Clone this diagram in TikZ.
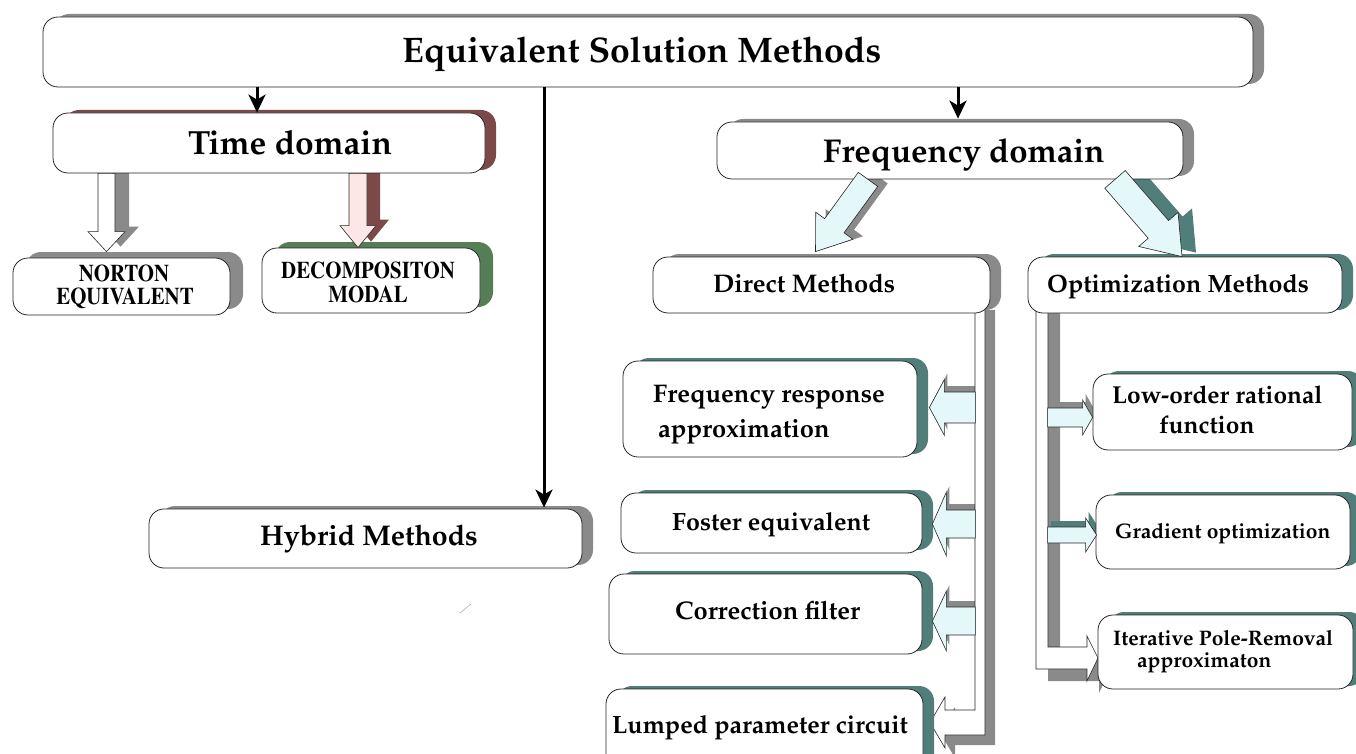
\documentclass[tikz,border=0pt]{standalone}
\usepackage[T1]{fontenc}
\renewcommand{\rmdefault}{ppl}
\usepackage{graphicx}
\usetikzlibrary{calc}
\usetikzlibrary{shadows}
\usetikzlibrary{arrows.meta}

\definecolor{shgray}{RGB}{138,138,138}
\definecolor{shbrown}{RGB}{124,72,72}
\definecolor{shgreen}{RGB}{86,126,86}
\definecolor{shteal}{RGB}{82,126,122}
\definecolor{paleblue}{RGB}{228,247,249}
\definecolor{palepink}{RGB}{252,230,230}

\pgfdeclarelayer{back}
\pgfsetlayers{back,main}

\tikzset{
  box/.style={draw=black!85, fill=white, rounded corners=15pt, line width=0.8pt, inner sep=0pt},
  shd/.style={general shadow={fill=#1, shadow xshift=11pt, shadow yshift=3pt}},
  shdb/.style={general shadow={fill=#1, shadow xshift=13pt, shadow yshift=6pt}},
  txt/.style={anchor=base west, inner sep=0pt, font=\bfseries\fontsize{#1}{#1}\selectfont},
  caps/.style={anchor=base, inner sep=0pt, font=\fontfamily{ptm}\bfseries\fontsize{24}{24}\selectfont},
  arr/.style={line width=3pt, -{Stealth[length=18pt,width=17pt,inset=5pt]}},
  bus/.style={draw=black!85, fill=white, line width=0.6pt}
}

% hollow block arrow: fill, shadow, from, to, half shaft, half head, head length
\newcommand{\bapath}[2]{($(ba-s)!#1!90:(ba-t)$) -- ($(ba-h)!#1!90:(ba-t)$) -- ($(ba-h)!#2!90:(ba-t)$) -- (ba-t) -- ($(ba-h)!#2!-90:(ba-t)$) -- ($(ba-h)!#1!-90:(ba-t)$) -- ($(ba-s)!#1!-90:(ba-t)$) -- cycle}
\newcommand{\blockarrow}[7]{%
  \path (#3) coordinate (ba-s) (#4) coordinate (ba-t);
  \path ($(ba-t)!#7!(ba-s)$) coordinate (ba-h);
  \begin{pgfonlayer}{back}
    \fill[#2] \bapath{#5}{#6};
  \end{pgfonlayer}
  \draw[fill=#1, draw=black!85, line width=0.6pt] \bapath{#5}{#6};
}

\begin{document}
\begin{tikzpicture}[x=1pt, y=-1pt]
\useasboundingbox (0,0) rectangle (1356,754);

% buses under the boxes
\coordinate (dbus) at (975,300);
\coordinate (obus) at (1036,300);
\begin{pgfonlayer}{back}
  \fill[shgray, transform canvas={xshift=10pt, yshift=-10pt}] (dbus) -- (975,710) -- (945,710) -- (945,697) -- (930,722.5) -- (945,748) -- (945,735) -- (985,735) -- (985,300) -- cycle;
  \fill[shgray, transform canvas={xshift=12pt, yshift=-12pt}] (obus) -- (1036,669) -- (1087,669) -- (1087,681) -- (1098,658) -- (1087,636) -- (1087,647) -- (1048,647) -- (1048,300) -- cycle;
\end{pgfonlayer}
\draw[bus] (dbus) -- (975,710) -- (945,710) -- (945,697) -- (930,722.5) -- (945,748) -- (945,735) -- (985,735) -- (985,300) -- cycle;
\draw[bus] (obus) -- (1036,669) -- (1087,669) -- (1087,681) -- (1098,658) -- (1087,636) -- (1087,647) -- (1048,647) -- (1048,300) -- cycle;

% boxes
\node[box, shd=shgray, minimum width=1210pt, minimum height=70pt] (main) at (648,52) {};
\node[box, shd=shbrown, minimum width=432pt, minimum height=60pt] (time) at (269,143) {};
\node[box, shdb=shgray, minimum width=217pt, minimum height=57pt] (nor) at (121.5,286.5) {};
\node[box, shdb=shgreen, minimum width=218pt, minimum height=65pt] (dec) at (371,280.5) {};
\node[box, shd=shgray, minimum width=433pt, minimum height=59pt] (hyb) at (365.5,538.5) {};
\node[box, shd=shgray, minimum width=466pt, minimum height=57pt] (freq) at (950,150.5) {};
\node[box, shd=shgray, minimum width=337pt, minimum height=56pt] (dir) at (821.5,285) {};
\node[box, shd=shteal, minimum width=314pt, minimum height=56pt] (opt) at (1185,285) {};
\node[box, shd=shteal, minimum width=294pt, minimum height=96pt] (fra) at (770,409) {};
\node[box, shd=shteal, minimum width=301pt, minimum height=60pt] (fos) at (771.5,523) {};
\node[box, shd=shteal, minimum width=313pt, minimum height=80pt] (cor) at (765.5,614) {};
\node[box, shd=shteal, minimum width=317pt, minimum height=100pt] (lum) at (764.5,739) {};
\node[box, shd=shteal, minimum width=259pt, minimum height=76pt] (low) at (1222.5,412) {};
\node[box, shd=shteal, minimum width=254pt, minimum height=74pt] (grad) at (1223,532) {};
\node[box, shd=shteal, minimum width=255pt, minimum height=74pt] (iter) at (1225.5,652) {};

% texts
\node[txt=35.5] (main-t) at (402,63) {Equivalent Solution Methods};
\node[txt=33.5] (time-t) at (188,155) {Time domain};
\node[txt=33] (freq-t) at (823,163) {Frequency domain};
\node[txt=28.5] (hyb-t) at (260,545) {Hybrid Methods};
\node[txt=25.5] (dir-t) at (713,292) {Direct Methods};
\node[txt=25] (opt-t) at (1047,292) {Optimization Methods};
\node[txt=25.5] (fra-a) at (653,402) {Frequency response};
\node[txt=25.5] (fra-b) at (658,437) {approximation};
\node[txt=25] (fos-t) at (672,530) {Foster equivalent};
\node[txt=25.5] (cor-t) at (675,619) {Correction filter};
\node[txt=25] (lum-t) at (612,733) {Lumped parameter circuit};
\node[txt=24.5] (low-a) at (1112,403) {Low-order rational};
\node[txt=24.5] (low-b) at (1159,433) {function};
\node[txt=21] (grad-t) at (1115,538) {Gradient optimization};
\node[txt=21] (iter-a) at (1113,645) {Iterative Pole-Removal};
\node[txt=21] (iter-b) at (1137,667) {approximaton};
\node[caps] (nor-a) at (124,281) {\scalebox{0.87}[1]{NORTON}};
\node[caps] (nor-b) at (125,304) {\scalebox{0.87}[1]{EQUIVALENT}};
\node[caps] (dec-a) at (368,278) {\scalebox{0.87}[1]{DECOMPOSITON}};
\node[caps] (dec-b) at (368,302) {\scalebox{0.87}[1]{MODAL}};

% black arrows
\draw[arr] ($(time.north |- main.south)+(-12,0)$) -- ($(time.north)+(-12,0)$);
\draw[arr] ($(hyb.north |- main.south)+(178.5,0)$) -- ($(hyb.north)+(178.5,-1)$);
\draw[arr] ($(freq.north |- main.south)+(8,0)$) -- ($(freq.north)+(8,-3)$);

% block arrows
\blockarrow{white}{shgray, transform canvas={xshift=14pt, yshift=5pt}}{$(time.south -| nor.north)+(-15,0)$}{$(nor.north)+(-15,-6)$}{8.5pt}{18.5pt}{20pt}
\blockarrow{palepink}{shbrown, transform canvas={xshift=13pt, yshift=6pt}}{$(time.south -| dec.north)+(-13,0)$}{$(dec.north)+(-13,0)$}{9pt}{18pt}{22pt}
\blockarrow{paleblue}{shgray, transform canvas={xshift=10pt, yshift=3pt}}{$(freq.south)+(-82,0)$}{$(dir.north)+(-6,-5)$}{12pt}{23pt}{32pt}
\blockarrow{paleblue}{shteal, transform canvas={xshift=14pt, yshift=4pt}}{$(freq.south)+(165,0)$}{$(opt.north)+(-3,0)$}{13.5pt}{26pt}{36pt}

% branches of the buses
\blockarrow{paleblue}{shgray, transform canvas={xshift=3pt, yshift=6pt}}{$(fra.east)+(58,-1.5)$}{$(fra.east)+(12,-1.5)$}{15.5pt}{28pt}{15pt}
\blockarrow{paleblue}{shgray, transform canvas={xshift=3pt, yshift=6pt}}{$(fos.east)+(53,1)$}{$(fos.east)+(10,1)$}{14pt}{32pt}{14pt}
\blockarrow{paleblue}{shgray, transform canvas={xshift=3pt, yshift=6pt}}{$(cor.east)+(53,7)$}{$(cor.east)+(10,7)$}{14pt}{30pt}{14pt}
\blockarrow{paleblue}{shgray, transform canvas={xshift=3pt, yshift=6pt}}{$(low.west)+(-45,5.5)$}{$(low.west)+(0,5.5)$}{9.5pt}{17.5pt}{10pt}
\blockarrow{paleblue}{shteal, transform canvas={xshift=3pt, yshift=6pt}}{$(grad.west)+(-48,3)$}{$(grad.west)+(1,3)$}{8pt}{17pt}{11pt}

\draw[shgray!70, line width=0.6pt] (460,613) -- (471,604);
\end{tikzpicture}
\end{document}
